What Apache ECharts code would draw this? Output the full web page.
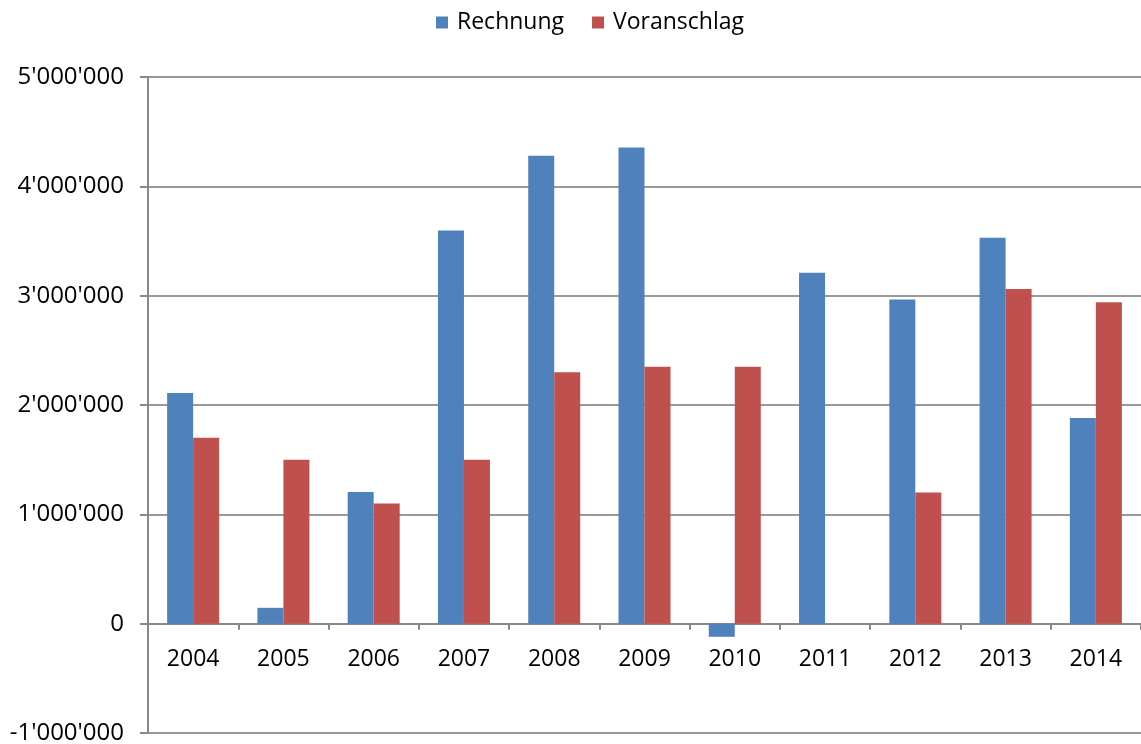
<!DOCTYPE html>
<html><head><meta charset="utf-8">
<script src="https://cdn.jsdelivr.net/npm/echarts@6/dist/echarts.min.js"></script>
<style>html,body{margin:0;padding:0;background:#fff}#c{width:1141px;height:744px}</style>
</head><body><div id="c"></div>
<script>
const categories = ['2004','2005','2006','2007','2008','2009','2010','2011','2012','2013','2014'];
const rechnung = [2110000, 145000, 1205000, 3595000, 4280000, 4355000, -120000, 3210000, 2965000, 3530000, 1880000];
const voranschlag = [1700000, 1500000, 1100000, 1500000, 2300000, 2350000, 2350000, 0, 1200000, 3060000, 2940000];
const seriesNames = ['Rechnung', 'Voranschlag'];
const colors = ['#4F81BD', '#C0504D'];
const fontFam = '"Open Sans", "Liberation Sans", sans-serif';
function fmt(v){
  const neg = v < 0; let s = String(Math.abs(v));
  s = s.replace(/\B(?=(\d{3})+(?!\d))/g, "'");
  return (neg ? '-' : '') + s;
}
const chart = echarts.init(document.getElementById('c'), null, {renderer:'canvas'});
chart.setOption({
  animation: false,
  color: colors,
  legend: {
    top: 6, left: 431, itemWidth: 12, itemHeight: 12, itemGap: 28,
    icon: 'rect',
    textStyle: {fontFamily: fontFam, fontSize: 23, color: '#000', padding: [0,0,0,4]},
    data: seriesNames
  },
  grid: {left: 148, right: 0, top: 77, bottom: 11, containLabel: false, outerBoundsMode: 'none'},
  xAxis: {
    type: 'category', data: categories,
    axisLine: {onZero: true, lineStyle: {color: '#888', width: 2}},
    axisTick: {show: true, length: 6, inside: false, lineStyle: {color: '#888', width: 2}},
    axisLabel: {fontFamily: fontFam, fontSize: 23, color: '#000', margin: -85}
  },
  yAxis: {
    type: 'value', min: -1000000, max: 5000000, interval: 1000000,
    axisLine: {show: true, lineStyle: {color: '#888', width: 2}},
    axisTick: {show: true, length: 8, lineStyle: {color: '#888', width: 2}},
    splitLine: {show: true, lineStyle: {color: '#999', width: 2}},
    axisLabel: {fontFamily: fontFam, fontSize: 24, color: '#000', margin: 24, formatter: fmt}
  },
  series: [
    {name: seriesNames[0], type: 'bar', data: rechnung, barWidth: 26, barGap: '0%'},
    {name: seriesNames[1], type: 'bar', data: voranschlag, barWidth: 26, barGap: '0%'}
  ]
});
</script></body></html>
